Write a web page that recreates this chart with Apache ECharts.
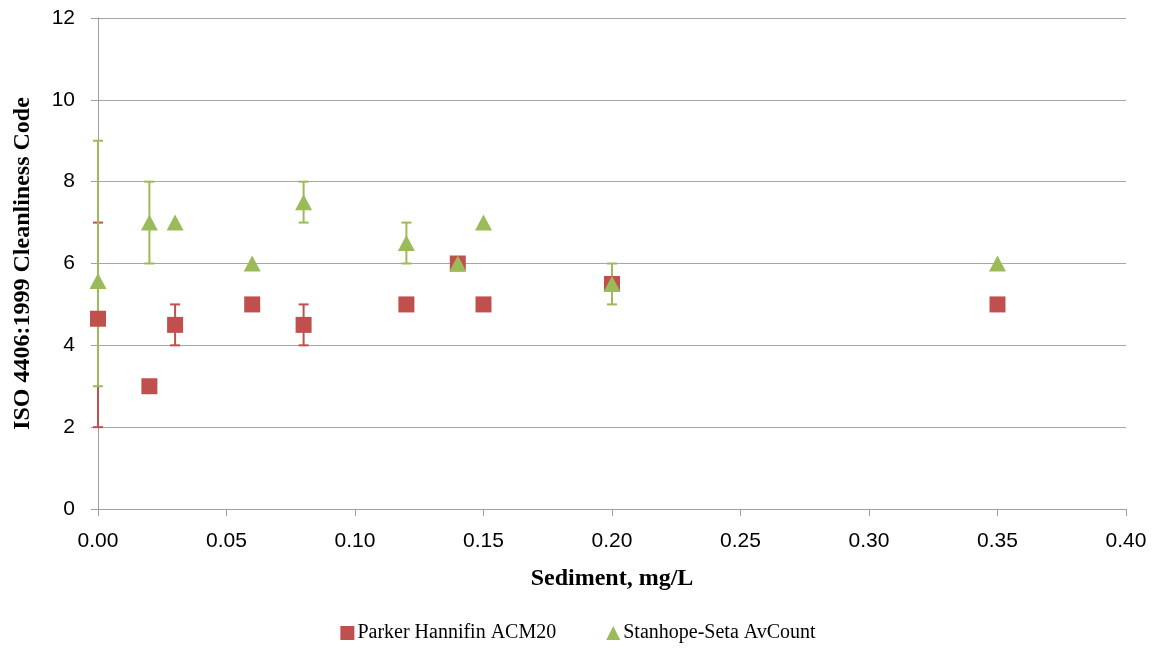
<!DOCTYPE html>
<html><head><meta charset="utf-8">
<script src="https://cdn.jsdelivr.net/npm/echarts@6/dist/echarts.min.js"></script>
<style>html,body{margin:0;padding:0;background:#fff}#c{width:1156px;height:650px}</style>
</head><body><div id="c"></div>
<script>
// Data
const parkerX = [0.00, 0.02, 0.03, 0.06, 0.08, 0.12, 0.14, 0.15, 0.20, 0.35];
const parkerY = [4.65, 3.0, 4.5, 5.0, 4.5, 5.0, 6.0, 5.0, 5.5, 5.0];
const parkerLow  = [2, null, 4, null, 4, null, null, null, null, null];
const parkerHigh = [7, null, 5, null, 5, null, null, null, null, null];

const stanX = [0.00, 0.02, 0.03, 0.06, 0.08, 0.12, 0.14, 0.15, 0.20, 0.35];
const stanY = [5.57, 7.0, 7.0, 6.0, 7.5, 6.5, 6.0, 7.0, 5.5, 6.0];
const stanLow  = [3, 6, null, null, 7, 6, null, null, 5, null];
const stanHigh = [9, 8, null, null, 8, 7, null, null, 6, null];

const seriesNames = ['Parker Hannifin ACM20', 'Stanhope-Seta AvCount'];
const colors = ['#c0504d', '#9bbb59'];

function errData(xs, lo, hi) {
  const out = [];
  xs.forEach((x, i) => { if (lo[i] != null) out.push([x, lo[i], hi[i]]); });
  return out;
}
function errRender(color) {
  return function (params, api) {
    const x = api.value(0);
    const p1 = api.coord([x, api.value(1)]);
    const p2 = api.coord([x, api.value(2)]);
    const w = 5;
    const st = { stroke: color, lineWidth: 2 };
    return { type: 'group', children: [
      { type: 'line', shape: { x1: p1[0], y1: p1[1], x2: p2[0], y2: p2[1] }, style: st },
      { type: 'line', shape: { x1: p1[0]-w, y1: p1[1], x2: p1[0]+w, y2: p1[1] }, style: st },
      { type: 'line', shape: { x1: p2[0]-w, y1: p2[1], x2: p2[0]+w, y2: p2[1] }, style: st }
    ]};
  };
}

const chart = echarts.init(document.getElementById('c'), null, { renderer: 'canvas' });
const tickFont = { fontFamily: 'Liberation Sans', fontSize: 21, color: '#000' };
chart.setOption({
  animation: false,
  grid: { left: 98, right: 30, top: 18, bottom: 141, containLabel: false },
  xAxis: {
    type: 'value', min: 0, max: 0.4, interval: 0.05,
    name: 'Sediment, mg/L', nameLocation: 'middle', nameGap: 58,
    nameTextStyle: { fontFamily: 'Liberation Serif', fontWeight: 'bold', fontSize: 24, color: '#000' },
    axisLine: { show: true, lineStyle: { color: '#a0a0a0' } },
    axisTick: { show: true, length: 7, lineStyle: { color: '#a0a0a0' } },
    axisLabel: Object.assign({ margin: 22, formatter: v => v.toFixed(2) }, tickFont),
    splitLine: { show: false }
  },
  yAxis: {
    type: 'value', min: 0, max: 12, interval: 2,
    name: 'ISO 4406:1999 Cleanliness Code', nameLocation: 'middle', nameGap: 63,
    nameTextStyle: { fontFamily: 'Liberation Serif', fontWeight: 'bold', fontSize: 24, color: '#000' },
    axisLine: { show: true, lineStyle: { color: '#a0a0a0' } },
    axisTick: { show: true, length: 7, lineStyle: { color: '#a0a0a0' } },
    axisLabel: Object.assign({ margin: 23 }, tickFont),
    splitLine: { show: true, lineStyle: { color: '#a6a6a6', width: 1 } }
  },
  legend: {
    bottom: 2, left: 'center', itemGap: 50, itemWidth: 14, itemHeight: 14,
    textStyle: { fontFamily: 'Liberation Serif', fontSize: 20, color: '#000', padding: [0, 0, 0, -2] },
    data: [
      { name: seriesNames[0], icon: 'rect' },
      { name: seriesNames[1], icon: 'triangle' }
    ]
  },
  series: [
    { type: 'custom', name: 'err0', renderItem: errRender(colors[0]), data: errData(parkerX, parkerLow, parkerHigh), z: 1, silent: true },
    { type: 'custom', name: 'err1', renderItem: errRender(colors[1]), data: errData(stanX, stanLow, stanHigh), z: 1, silent: true },
    { type: 'scatter', name: seriesNames[0], symbol: 'rect', symbolSize: 16, itemStyle: { color: colors[0], opacity: 1 },
      data: parkerX.map((x, i) => [x, parkerY[i]]), z: 3 },
    { type: 'scatter', name: seriesNames[1], symbol: 'triangle', symbolSize: [17, 16], itemStyle: { color: colors[1], opacity: 1 },
      data: stanX.map((x, i) => [x, stanY[i]]), z: 4 }
  ]
});
</script></body></html>
